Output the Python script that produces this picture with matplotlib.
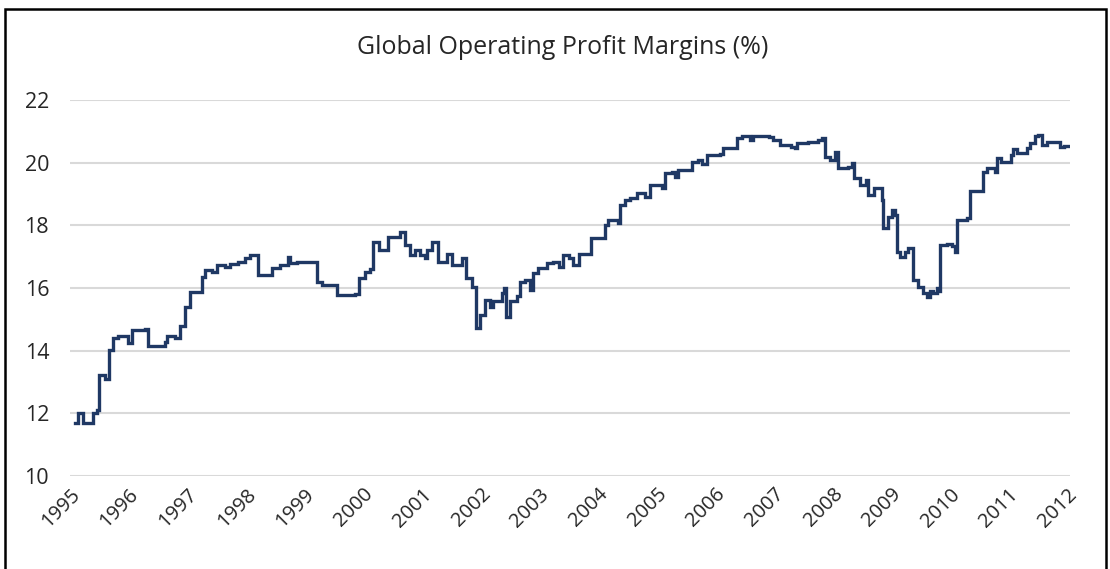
import numpy as np
import matplotlib.pyplot as plt
from matplotlib.patches import Rectangle

# values (decimal year, margin %)
years = [1995.09, 1995.14, 1995.22, 1995.38, 1995.40, 1995.46, 1995.50, 1995.60,
         1995.67, 1995.74, 1995.82, 1995.99, 1996.05, 1996.28, 1996.33, 1996.62,
         1996.65, 1996.79, 1996.88, 1996.96, 1997.05, 1997.25, 1997.30, 1997.42,
         1997.50, 1997.64, 1997.73, 1997.86, 1997.98, 1998.07, 1998.20, 1998.21,
         1998.44, 1998.58, 1998.72, 1998.75, 1998.87, 1999.01, 1999.15, 1999.21,
         1999.29, 1999.55, 1999.86, 1999.92, 2000.03, 2000.12, 2000.17, 2000.26,
         2000.43, 2000.63, 2000.71, 2000.80, 2000.88, 2000.97, 2001.05, 2001.08,
         2001.17, 2001.28, 2001.42, 2001.51, 2001.68, 2001.76, 2001.85, 2001.92,
         2001.99, 2002.08, 2002.16, 2002.22, 2002.36, 2002.40, 2002.43, 2002.50,
         2002.62, 2002.67, 2002.76, 2002.84, 2002.90, 2002.98, 2003.13, 2003.24,
         2003.33, 2003.41, 2003.50, 2003.58, 2003.67, 2003.89, 2004.12, 2004.18,
         2004.35, 2004.38, 2004.46, 2004.55, 2004.66, 2004.80, 2004.89, 2005.09,
         2005.14, 2005.26, 2005.31, 2005.37, 2005.60, 2005.71, 2005.77, 2005.86,
         2006.08, 2006.14, 2006.34, 2006.37, 2006.45, 2006.59, 2006.65, 2006.91,
         2006.99, 2007.11, 2007.30, 2007.36, 2007.39, 2007.59, 2007.76, 2007.82,
         2007.87, 2007.96, 2008.04, 2008.10, 2008.27, 2008.33, 2008.36, 2008.47,
         2008.58, 2008.61, 2008.70, 2008.84, 2008.87, 2008.95, 2009.01, 2009.07,
         2009.10, 2009.15, 2009.24, 2009.29, 2009.38, 2009.46, 2009.55, 2009.61,
         2009.66, 2009.72, 2009.78, 2009.81, 2009.83, 2009.95, 2010.03, 2010.09,
         2010.12, 2010.29, 2010.34, 2010.52, 2010.57, 2010.63, 2010.77, 2010.80,
         2010.88, 2011.05, 2011.08, 2011.14, 2011.31, 2011.37, 2011.45, 2011.51,
         2011.57, 2011.65, 2011.81, 2011.88, 2011.94, 2012.02]
margins = [11.68, 12.02, 11.70, 11.70, 12.00, 12.10, 13.22, 13.09,
           14.02, 14.40, 14.47, 14.25, 14.66, 14.68, 14.15, 14.28,
           14.47, 14.40, 14.79, 15.38, 15.88, 16.36, 16.57, 16.52,
           16.73, 16.68, 16.78, 16.84, 16.95, 17.05, 17.05, 16.41,
           16.63, 16.73, 17.00, 16.80, 16.84, 16.84, 16.84, 16.20,
           16.10, 15.78, 15.80, 16.31, 16.52, 16.60, 17.48, 17.21,
           17.64, 17.80, 17.37, 17.05, 17.20, 17.05, 16.95, 17.20,
           17.48, 16.84, 17.10, 16.73, 16.95, 16.31, 16.04, 14.71,
           15.14, 15.62, 15.40, 15.60, 15.83, 16.00, 15.09, 15.60,
           15.75, 16.20, 16.25, 15.94, 16.47, 16.63, 16.79, 16.84,
           16.68, 17.05, 16.95, 16.75, 17.10, 17.59, 18.00, 18.17,
           18.06, 18.65, 18.81, 18.86, 19.02, 18.92, 19.29, 19.18,
           19.66, 19.70, 19.55, 19.76, 20.03, 20.10, 19.97, 20.24,
           20.29, 20.46, 20.48, 20.78, 20.85, 20.72, 20.85, 20.82,
           20.72, 20.56, 20.51, 20.46, 20.62, 20.67, 20.72, 20.78,
           20.19, 20.10, 20.35, 19.82, 19.85, 19.98, 19.50, 19.29,
           19.45, 18.97, 19.18, 18.81, 17.91, 18.28, 18.49, 18.33,
           17.16, 17.00, 17.16, 17.27, 16.25, 16.04, 15.85, 15.72,
           15.89, 15.85, 15.99, 15.90, 17.37, 17.40, 17.35, 17.16,
           18.17, 18.22, 19.08, 19.10, 19.71, 19.82, 19.71, 20.14,
           20.03, 20.24, 20.43, 20.30, 20.46, 20.62, 20.85, 20.88,
           20.56, 20.67, 20.66, 20.49, 20.54, 20.54]

year_ticks = list(range(1995, 2013))
y_ticks = [10, 12, 14, 16, 18, 20, 22]

plt.rcParams['font.family'] = ['Open Sans', 'DejaVu Sans']

fig = plt.figure(figsize=(11.1, 5.69), dpi=100)
ax = fig.add_axes([70/1110, 1 - 476/569, 1000/1110, 376/569])

ax.plot(years, margins, color='#1F3864', lw=2.4, drawstyle='steps-post',
        solid_joinstyle='miter')

ax.set_xlim(1995, 2012.05)
ax.set_ylim(10, 22)
ax.set_yticks(y_ticks)
ax.set_xticks(year_ticks)
ax.set_xticklabels([str(y) for y in year_ticks], rotation=45, ha='right',
                   va='top', rotation_mode='anchor')
ax.tick_params(axis='both', length=0, colors='#262626')
ax.tick_params(axis='y', pad=15, labelsize=15.5)
ax.tick_params(axis='x', pad=6, labelsize=14.5)
ax.grid(axis='y', color='#D9D9D9', lw=1.5)
ax.set_axisbelow(True)
for s in ax.spines.values():
    s.set_visible(False)

fig.text(563/1110, 1 - 48/569, 'Global Operating Profit Margins (%)',
         ha='center', va='center', fontsize=18, color='#262626')

# outer frame
fig.patches.append(Rectangle((5/1110, -0.05), 1101/1110, 1.05 - 9/569,
                             transform=fig.transFigure, fill=False,
                             edgecolor='black', lw=1.8))

fig.savefig('out.png', dpi=100)
